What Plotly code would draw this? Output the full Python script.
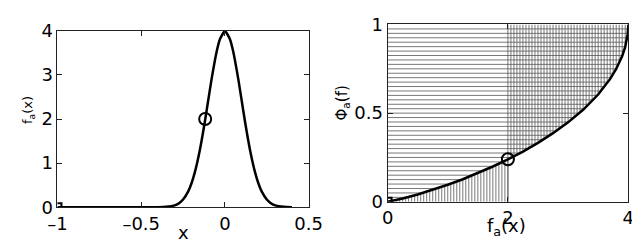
import numpy as np
import plotly.graph_objects as go

# Left panel: f_a(x)
x_vals = [-1.0, -0.5, -0.4, -0.35, -0.3, -0.27, -0.25, -0.22, -0.2, -0.18, -0.15, -0.12,
          -0.1, -0.08, -0.05, -0.03, 0.0, 0.03, 0.05, 0.08, 0.1, 0.12, 0.15, 0.18, 0.2,
          0.22, 0.25, 0.27, 0.3, 0.35, 0.4]
f_vals = [0.0, 0.0, 0.0, 0.01, 0.044, 0.104, 0.175, 0.355, 0.54, 0.79, 1.295, 1.94,
          2.42, 2.90, 3.52, 3.81, 3.99, 3.81, 3.52, 2.90, 2.42, 1.94, 1.295, 0.79, 0.54,
          0.355, 0.175, 0.104, 0.044, 0.01, 0.0]
circle_x, circle_f = [-0.118], [2.0]
square_x, square_f = [-1.0], [0.0]

# Right panel: cumulative mass vs f_a level
level_vals = [0.0, 0.1, 0.25, 0.5, 0.75, 1.0, 1.25, 1.5, 1.75, 2.0, 2.25, 2.5, 2.75, 3.0,
              3.25, 3.5, 3.7, 3.8, 3.9, 3.95, 3.98, 3.99, 3.999, 4.0]
mass_vals = [0.0, 0.007, 0.0185, 0.041, 0.067, 0.096, 0.127, 0.162, 0.199, 0.239, 0.283,
             0.332, 0.387, 0.448, 0.519, 0.605, 0.693, 0.749, 0.822, 0.874, 0.920, 0.944,
             0.982, 1.0]
r_circle_x, r_circle_y = [2.0], [0.24]
r_square_x, r_square_y = [0.0], [0.0]
split_level = 2.0

left_ticks_x = [-1, -0.5, 0, 0.5]
left_tick_text_x = ["\u20131", "\u20130.5", "0", "0.5"]
left_ticks_y = [0, 1, 2, 3, 4]
right_ticks_x = [0, 2, 4]
right_ticks_y = [0, 0.5, 1]

FONT = "DejaVu Sans, sans-serif"

fig = go.Figure()

# hatching on the right panel
lv = np.array(level_vals)
mv = np.array(mass_vals)
hx, hy = [], []
for yy in np.arange(0.025, 1.0, 0.025):
    xe = float(np.interp(yy, mv, lv))
    hx += [0, xe, None]
    hy += [yy, yy, None]
vx, vy = [], []
for xx in np.arange(0.05, 4.0, 0.05):
    fm = float(np.interp(xx, lv, mv))
    if xx <= split_level + 1e-9:
        vx += [xx, xx, None]; vy += [0, fm, None]
    else:
        vx += [xx, xx, None]; vy += [fm, 1, None]
vx += [split_level, split_level, None]; vy += [0, 1, None]

fig.add_trace(go.Scatter(x=hx, y=hy, mode="lines", line=dict(color="#555", width=0.8),
                         xaxis="x2", yaxis="y2", hoverinfo="skip"))
fig.add_trace(go.Scatter(x=vx, y=vy, mode="lines", line=dict(color="#555", width=0.8),
                         xaxis="x2", yaxis="y2", hoverinfo="skip"))

fig.add_trace(go.Scatter(x=level_vals, y=mass_vals, mode="lines",
                         line=dict(color="black", width=2.5), xaxis="x2", yaxis="y2"))
fig.add_trace(go.Scatter(x=r_circle_x, y=r_circle_y, mode="markers",
                         marker=dict(symbol="circle-open", size=12, color="black", line=dict(width=2)),
                         xaxis="x2", yaxis="y2"))
fig.add_trace(go.Scatter(x=r_square_x, y=r_square_y, mode="markers",
                         marker=dict(symbol="square-open", size=8, color="black", line=dict(width=2)),
                         xaxis="x2", yaxis="y2"))

# left panel
fig.add_trace(go.Scatter(x=x_vals, y=f_vals, mode="lines", line=dict(color="black", width=2.5, shape="spline", smoothing=0.6)))
fig.add_trace(go.Scatter(x=circle_x, y=circle_f, mode="markers",
                         marker=dict(symbol="circle-open", size=12, color="black", line=dict(width=2))))
fig.add_trace(go.Scatter(x=square_x, y=square_f, mode="markers",
                         marker=dict(symbol="square-open", size=8, color="black", line=dict(width=2))))

ax_common = dict(showgrid=False, zeroline=False, showline=True, linecolor="#222", linewidth=1,
                 mirror="ticks", ticks="inside", ticklen=5, tickcolor="#222",
                 tickfont=dict(family=FONT, size=18, color="black"))

def ann(text, xp, yp, size, angle=0):
    return dict(text=text, x=xp/640, y=1-yp/244, xref="paper", yref="paper", showarrow=False,
                xanchor="center", yanchor="middle", textangle=angle,
                font=dict(family=FONT, size=size, color="black"))

fig.update_layout(
    width=640, height=244, showlegend=False,
    margin=dict(l=0, r=0, t=0, b=0),
    paper_bgcolor="white", plot_bgcolor="white",
    xaxis=dict(domain=[41/640, 302/640], range=[-1, 0.5], tickvals=left_ticks_x,
               ticktext=left_tick_text_x, anchor="y", **ax_common),
    yaxis=dict(domain=[1-206/244, 1-13/244], range=[0, 4], tickvals=left_ticks_y, anchor="x", **ax_common),
    xaxis2=dict(domain=[384/640, 634/640], range=[0, 4], tickvals=right_ticks_x, anchor="y2", **ax_common),
    yaxis2=dict(domain=[1-200/244, 1-6/244], range=[0, 1], tickvals=right_ticks_y, anchor="x2", **ax_common),
    annotations=[
        ann("x", 172, 234, 18),
        ann("f<sub>a</sub>(x)", 508, 228, 18),
        ann("f<sub>a</sub>(x)", 11, 100, 13, -90),
        ann("\u03a6<sub>a</sub>(f)", 337, 92, 15, -90),
    ],
)

fig.write_html("out.html")
